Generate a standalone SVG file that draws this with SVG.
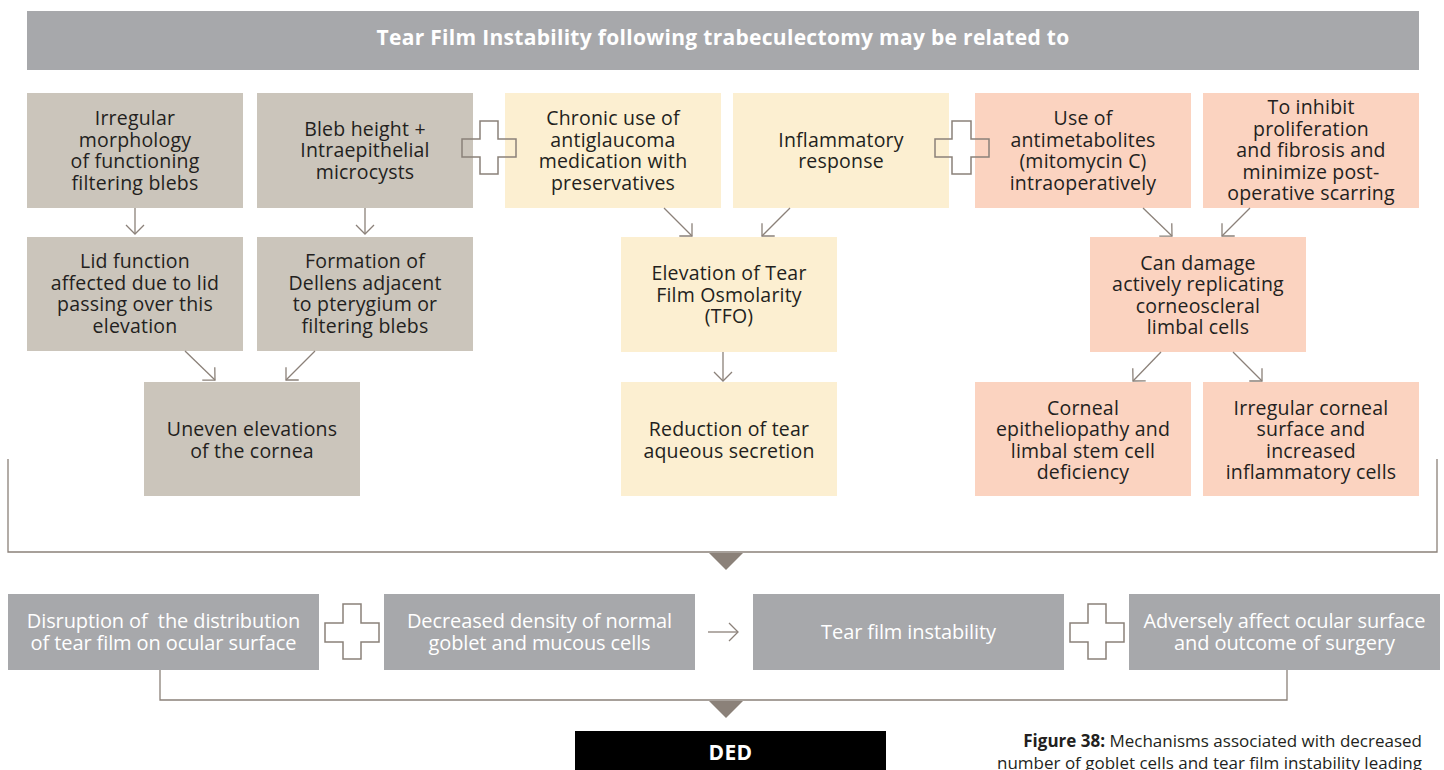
<svg xmlns="http://www.w3.org/2000/svg" width="1444" height="770" viewBox="0 0 1444 770">
<defs>
<style>
.bg{fill:#cbc5bb}.cr{fill:#fcefd1}.pk{fill:#fbd3c0}.gy{fill:#a7a8ab}
.t{font-family:"Open Sans","Noto Sans","Liberation Sans",sans-serif;font-size:19.5px;fill:#231f20;text-anchor:middle;letter-spacing:0.2px}
.w{font-family:"Open Sans","Noto Sans","Liberation Sans",sans-serif;font-size:20px;fill:#ffffff;text-anchor:middle;letter-spacing:-0.1px}
.hd{font-family:"Open Sans","Noto Sans","Liberation Sans",sans-serif;font-size:21px;font-weight:bold;fill:#ffffff;text-anchor:middle;letter-spacing:0.3px}
.ln{fill:none;stroke:#8b8179;stroke-width:1.3}
.ar{fill:none;stroke:#8b8179;stroke-width:1.3;marker-end:url(#ah)}
.plus{fill:none;stroke:#8b8179;stroke-width:1.5}
.tri{fill:#8b8179}
.cap{font-family:"Open Sans","Noto Sans","Liberation Sans",sans-serif;font-size:17px;fill:#231f20;text-anchor:end}
</style>
<marker id="ah" markerUnits="userSpaceOnUse" markerWidth="12" markerHeight="20" viewBox="0 0 12 20" refX="10.5" refY="10" orient="auto">
<path d="M1.5,1 L10.5,10 L1.5,19" fill="none" stroke="#8b8179" stroke-width="1.3"/>
</marker>
</defs>
<rect width="1444" height="770" fill="#ffffff"/>

<g id="title">
<rect class="gy" x="27" y="11" width="1392" height="59"/>
<text class="hd" x="723" y="45">Tear Film Instability following trabeculectomy may be related to</text>
</g>

<g id="n-irregular-morph">
<rect class="bg" x="27" y="93" width="216" height="115"/>
<text class="t" x="135" y="125"><tspan x="135">Irregular</tspan><tspan x="135" dy="21.5">morphology</tspan><tspan x="135" dy="21.5">of functioning</tspan><tspan x="135" dy="21.5">filtering blebs</tspan></text>
</g>
<g id="n-bleb-height">
<rect class="bg" x="257" y="93" width="216" height="115"/>
<text class="t" x="365" y="135.5"><tspan x="365">Bleb height +</tspan><tspan x="365" dy="21.5">Intraepithelial</tspan><tspan x="365" dy="21.5">microcysts</tspan></text>
</g>
<g id="n-chronic">
<rect class="cr" x="505" y="93" width="216" height="115"/>
<text class="t" x="613" y="125"><tspan x="613">Chronic use of</tspan><tspan x="613" dy="21.5">antiglaucoma</tspan><tspan x="613" dy="21.5">medication with</tspan><tspan x="613" dy="21.5">preservatives</tspan></text>
</g>
<g id="n-inflammatory">
<rect class="cr" x="733" y="93" width="216" height="115"/>
<text class="t" x="841" y="146.5"><tspan x="841">Inflammatory</tspan><tspan x="841" dy="21.5">response</tspan></text>
</g>
<g id="n-antimetabolites">
<rect class="pk" x="975" y="93" width="216" height="115"/>
<text class="t" x="1083" y="125"><tspan x="1083">Use of</tspan><tspan x="1083" dy="21.5">antimetabolites</tspan><tspan x="1083" dy="21.5">(mitomycin C)</tspan><tspan x="1083" dy="21.5">intraoperatively</tspan></text>
</g>
<g id="n-inhibit">
<rect class="pk" x="1203" y="93" width="216" height="115"/>
<text class="t" x="1311" y="114"><tspan x="1311">To inhibit</tspan><tspan x="1311" dy="21.5">proliferation</tspan><tspan x="1311" dy="21.5">and fibrosis and</tspan><tspan x="1311" dy="21.5">minimize post-</tspan><tspan x="1311" dy="21.5">operative scarring</tspan></text>
</g>

<g id="n-lid">
<rect class="bg" x="27" y="237" width="216" height="114"/>
<text class="t" x="135" y="268"><tspan x="135">Lid function</tspan><tspan x="135" dy="21.5">affected due to lid</tspan><tspan x="135" dy="21.5">passing over this</tspan><tspan x="135" dy="21.5">elevation</tspan></text>
</g>
<g id="n-dellens">
<rect class="bg" x="257" y="237" width="216" height="114"/>
<text class="t" x="365" y="268"><tspan x="365">Formation of</tspan><tspan x="365" dy="21.5">Dellens adjacent</tspan><tspan x="365" dy="21.5">to pterygium or</tspan><tspan x="365" dy="21.5">filtering blebs</tspan></text>
</g>
<g id="n-tfo">
<rect class="cr" x="621" y="237" width="216" height="115"/>
<text class="t" x="729" y="280"><tspan x="729">Elevation of Tear</tspan><tspan x="729" dy="21.5">Film Osmolarity</tspan><tspan x="729" dy="21.5">(TFO)</tspan></text>
</g>
<g id="n-damage">
<rect class="pk" x="1090" y="237" width="216" height="115"/>
<text class="t" x="1198" y="269.5"><tspan x="1198">Can damage</tspan><tspan x="1198" dy="21.5">actively replicating</tspan><tspan x="1198" dy="21.5">corneoscleral</tspan><tspan x="1198" dy="21.5">limbal cells</tspan></text>
</g>

<g id="n-uneven">
<rect class="bg" x="144" y="382" width="216" height="114"/>
<text class="t" x="252" y="436"><tspan x="252">Uneven elevations</tspan><tspan x="252" dy="21.5">of the cornea</tspan></text>
</g>
<g id="n-reduction">
<rect class="cr" x="621" y="382" width="216" height="114"/>
<text class="t" x="729" y="436"><tspan x="729">Reduction of tear</tspan><tspan x="729" dy="21.5">aqueous secretion</tspan></text>
</g>
<g id="n-epitheliopathy">
<rect class="pk" x="975" y="382" width="216" height="114"/>
<text class="t" x="1083" y="414.5"><tspan x="1083">Corneal</tspan><tspan x="1083" dy="21.5">epitheliopathy and</tspan><tspan x="1083" dy="21.5">limbal stem cell</tspan><tspan x="1083" dy="21.5">deficiency</tspan></text>
</g>
<g id="n-irregular-surface">
<rect class="pk" x="1203" y="382" width="216" height="114"/>
<text class="t" x="1311" y="414.5"><tspan x="1311">Irregular corneal</tspan><tspan x="1311" dy="21.5">surface and</tspan><tspan x="1311" dy="21.5">increased</tspan><tspan x="1311" dy="21.5">inflammatory cells</tspan></text>
</g>

<g id="n-disruption">
<rect class="gy" x="8" y="594" width="311" height="76"/>
<text class="w" x="163.5" y="628"><tspan x="163.5">Disruption of&#160; the distribution</tspan><tspan x="163.5" dy="22">of tear film on ocular surface</tspan></text>
</g>
<g id="n-goblet">
<rect class="gy" x="384" y="594" width="311" height="76"/>
<text class="w" x="539.5" y="628"><tspan x="539.5">Decreased density of normal</tspan><tspan x="539.5" dy="22">goblet and mucous cells</tspan></text>
</g>
<g id="n-instability">
<rect class="gy" x="753" y="594" width="311" height="76"/>
<text class="w" x="908.5" y="639">Tear film instability</text>
</g>
<g id="n-adverse">
<rect class="gy" x="1129" y="594" width="311" height="76"/>
<text class="w" x="1284.5" y="628"><tspan x="1284.5">Adversely affect ocular surface</tspan><tspan x="1284.5" dy="22">and outcome of surgery</tspan></text>
</g>

<g id="n-ded">
<rect x="575" y="731" width="311" height="45" fill="#000000"/>
<text class="hd" x="730.5" y="760">DED</text>
</g>

<g id="connectors">
<path class="plus" d="M480,121 H498 V139 H516 V157 H498 V174 H480 V157 H462 V139 H480 Z"/>
<path class="plus" d="M952,121 H971 V139 H989 V157 H971 V174 H952 V157 H935 V139 H952 Z"/>
<path class="plus" d="M343,604 H361 V623 H379 V642 H361 V659 H343 V642 H325 V623 H343 Z"/>
<path class="plus" d="M1088,604 H1106 V623 H1124 V642 H1106 V659 H1088 V642 H1070 V623 H1088 Z"/>

<line class="ar" x1="135" y1="208" x2="135" y2="234"/>
<line class="ar" x1="365" y1="208" x2="365" y2="234"/>
<line class="ar" x1="185" y1="351" x2="215" y2="380"/>
<line class="ar" x1="315" y1="351" x2="286" y2="380"/>
<line class="ar" x1="664" y1="208" x2="692" y2="236"/>
<line class="ar" x1="790" y1="208" x2="762" y2="236"/>
<line class="ar" x1="723" y1="352" x2="723" y2="381"/>
<line class="ar" x1="1143" y1="208" x2="1172" y2="236"/>
<line class="ar" x1="1250" y1="208" x2="1222" y2="236"/>
<line class="ar" x1="1161" y1="352" x2="1133" y2="381"/>
<line class="ar" x1="1233" y1="352" x2="1262" y2="381"/>
<line class="ar" x1="708" y1="632" x2="738" y2="632"/>

<path class="ln" d="M8,459 V552 H1437 V459"/>
<polygon class="tri" points="709,553 743,553 726,570"/>
<path class="ln" d="M160,670 V700 H1287 V670"/>
<polygon class="tri" points="709,701 743,701 726,718"/>
</g>

<g id="caption">
<text class="cap" x="1422" y="747"><tspan font-weight="bold">Figure 38:</tspan> Mechanisms associated with decreased</text>
<text class="cap" x="1422" y="769">number of goblet cells and tear film instability leading</text>
</g>
</svg>
